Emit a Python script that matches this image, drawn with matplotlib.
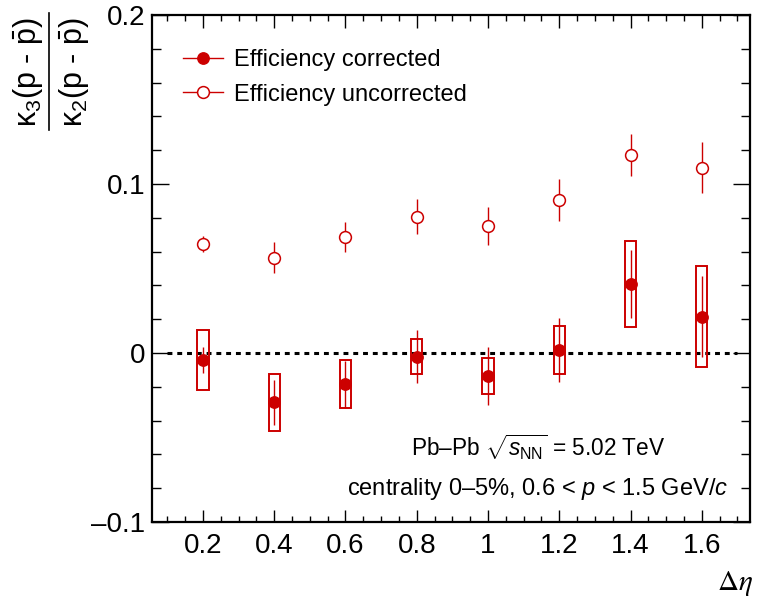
import matplotlib

matplotlib.use("Agg")
import matplotlib.pyplot as plt
from matplotlib.lines import Line2D
from matplotlib.ticker import FixedLocator, MultipleLocator

plt.rcParams["font.family"] = ["Liberation Sans", "DejaVu Sans"]
plt.rcParams["mathtext.fontset"] = "custom"
plt.rcParams["mathtext.rm"] = "Liberation Sans"
plt.rcParams["mathtext.it"] = "Liberation Sans:italic"
plt.rcParams["mathtext.bf"] = "Liberation Sans:bold"

RED = "#cc0000"

# Delta eta windows
deta = [0.2, 0.4, 0.6, 0.8, 1.0, 1.2, 1.4, 1.6]
deta_labels = ["0.2", "0.4", "0.6", "0.8", "1", "1.2", "1.4", "1.6"]

# efficiency corrected: value, statistical error, systematic error
corr = [-0.0041, -0.0292, -0.0185, -0.0022, -0.0136, 0.0018, 0.0408, 0.0215]
corr_stat = [0.0077, 0.0135, 0.0138, 0.0158, 0.0170, 0.0189, 0.0199, 0.0240]
corr_sys = [0.0175, 0.0167, 0.0143, 0.0104, 0.0106, 0.0142, 0.0254, 0.0298]

# efficiency uncorrected: value, statistical error
uncorr = [0.0645, 0.0564, 0.0685, 0.0807, 0.0750, 0.0905, 0.1172, 0.1097]
uncorr_stat = [0.0050, 0.0092, 0.0090, 0.0104, 0.0112, 0.0122, 0.0126, 0.0150]

fig = plt.figure(figsize=(7.59, 6.08), dpi=100)
ax = fig.add_axes([0.2003, 0.1414, 0.7877, 0.8339])

ax.plot([0.1, 1.7], [0, 0], color="black", lw=2.2,
        linestyle=(0, (1.6, 1.6)), dash_capstyle="butt", zorder=1)

# systematic boxes
lo = [v - s for v, s in zip(corr, corr_sys)]
ax.bar(deta, [2 * s for s in corr_sys], bottom=lo, width=0.032,
       fill=False, edgecolor=RED, linewidth=1.4, zorder=2)

ax.errorbar(deta, uncorr, yerr=uncorr_stat, fmt="o", ms=8.5, mfc="white",
            mec=RED, mew=1.1, ecolor=RED, elinewidth=1.0, capsize=0, zorder=3)
ax.errorbar(deta, corr, yerr=corr_stat, fmt="o", ms=8.2, mfc=RED,
            mec=RED, ecolor=RED, elinewidth=1.0, capsize=0, zorder=4)

ax.set_xlim(0.057, 1.735)
ax.set_ylim(-0.1, 0.2)

ax.xaxis.set_major_locator(FixedLocator(deta))
ax.set_xticklabels(deta_labels)
ax.xaxis.set_minor_locator(MultipleLocator(0.05))
ax.set_yticks([-0.1, 0, 0.1, 0.2])
ax.set_yticklabels(["\u20130.1", "0", "0.1", "0.2"])
ax.yaxis.set_minor_locator(MultipleLocator(0.02))

ax.tick_params(axis="both", which="both", direction="in", top=True, right=True,
               labelsize=20, width=1.0)
ax.tick_params(axis="x", which="major", length=9, pad=8)
ax.tick_params(axis="x", which="minor", length=4.5)
ax.tick_params(axis="y", which="major", length=12.5, pad=5)
ax.tick_params(axis="y", which="minor", length=6.5)
for sp in ax.spines.values():
    sp.set_linewidth(1.6)

handles = [
    Line2D([], [], color=RED, lw=1.0, marker="o", ms=8.2, mfc=RED, mec=RED),
    Line2D([], [], color=RED, lw=1.0, marker="o", ms=8.5, mfc="white", mec=RED, mew=1.1),
]
ax.legend(handles, ["Efficiency corrected", "Efficiency uncorrected"],
          loc="upper left", bbox_to_anchor=(0.052, 0.933), frameon=False,
          fontsize=17, handlelength=1.7, handletextpad=0.47,
          labelspacing=0.53, borderpad=0, borderaxespad=0)

fig.text(538 / 759, 1 - 447 / 608,
         "Pb\u2013Pb $\\sqrt{s_{\\mathrm{NN}}}$ = 5.02 TeV",
         ha="center", va="center", fontsize=16.3)
fig.text(538 / 759, 1 - 489 / 608,
         "centrality 0\u20135%, 0.6 < $p$ < 1.5 GeV/$c$",
         ha="center", va="center", fontsize=17)

fig.text(735 / 759, 1 - 583 / 608, r"$\Delta\eta$", ha="center", va="center",
         fontsize=21, math_fontfamily="stix")

# y axis title: kappa3 / kappa2 as a stacked fraction
ylab_y = 1 - 72 / 608
fig.text(28 / 759, ylab_y, "\u03ba$_{3}$(p - $\\bar{\\mathrm{p}}$)",
         rotation=90, ha="center", va="center", fontsize=22)
fig.text(74 / 759, ylab_y, "\u03ba$_{2}$(p - $\\bar{\\mathrm{p}}$)",
         rotation=90, ha="center", va="center", fontsize=22)
fig.add_artist(Line2D([48.5 / 759, 48.5 / 759], [1 - 13 / 608, 1 - 130 / 608],
                      color="black", lw=1.2))

fig.savefig("out.png", dpi=100)
